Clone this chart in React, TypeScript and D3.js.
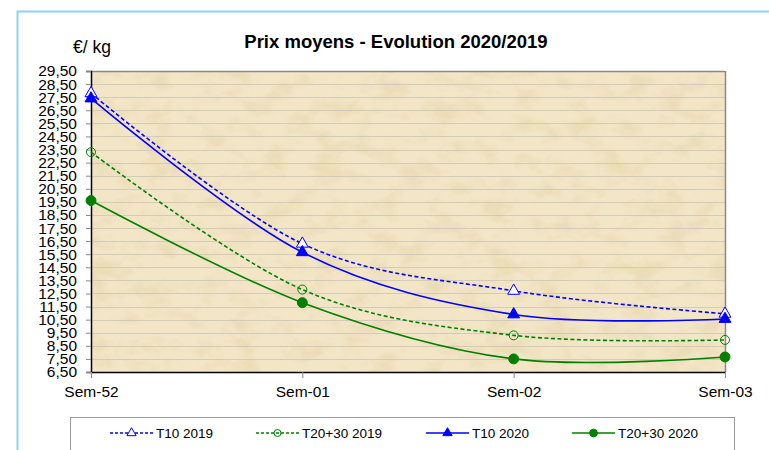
import React, { useEffect, useRef } from 'react';
import * as d3 from 'd3';

const weeks = ['Sem-52', 'Sem-01', 'Sem-02', 'Sem-03'];
const t10_2019 = [27.8, 16.3, 12.7, 10.95];
const t2030_2019 = [23.3, 12.8, 9.3, 8.95];
const t10_2020 = [27.4, 15.65, 10.9, 10.55];
const t2030_2020 = [19.6, 11.8, 7.5, 7.65];
const yTicks = d3.range(6.5, 29.51, 1);

const BLUE = '#0000ff';
const GREEN = '#008000';

type Series = { name: string; values: number[]; color: string; dashed: boolean; marker: 'triangle' | 'circle'; filled: boolean };

const series: Series[] = [
  { name: 'T10 2019', values: t10_2019, color: BLUE, dashed: true, marker: 'triangle', filled: false },
  { name: 'T20+30 2019', values: t2030_2019, color: GREEN, dashed: true, marker: 'circle', filled: false },
  { name: 'T10 2020', values: t10_2020, color: BLUE, dashed: false, marker: 'triangle', filled: true },
  { name: 'T20+30 2020', values: t2030_2020, color: GREEN, dashed: false, marker: 'circle', filled: true },
];

const legendX = [110, 256, 426, 572];

export default function App() {
  const ref = useRef<SVGSVGElement>(null);

  useEffect(() => {
    const svg = d3.select(ref.current);
    svg.selectAll('*').remove();

    const left = 91, right = 725, top = 71, bottom = 372;
    const font = '"Liberation Sans", Arial, sans-serif';

    // outer frame
    svg.append('rect').attr('x', 17.5).attr('y', 11.5).attr('width', 800).attr('height', 500)
      .attr('fill', '#fff').attr('stroke', '#8dd4f2').attr('stroke-width', 2);

    // parchment texture
    const defs = svg.append('defs');
    const f = defs.append('filter').attr('id', 'parch').attr('x', 0).attr('y', 0).attr('width', '100%').attr('height', '100%');
    f.append('feTurbulence').attr('type', 'fractalNoise').attr('baseFrequency', '0.035 0.05')
      .attr('numOctaves', 4).attr('seed', 7).attr('result', 'n');
    f.append('feColorMatrix').attr('in', 'n').attr('type', 'matrix')
      .attr('values', '0 0 0 0 0.84  0 0 0 0 0.72  0 0 0 0 0.48  3.2 0 0 0 -1.45');
    f.append('feComposite').attr('in2', 'SourceGraphic').attr('operator', 'in');

    const x = d3.scalePoint<string>().domain(weeks).range([left, right]);
    const y = d3.scaleLinear().domain([6.5, 29.5]).range([bottom, top]);

    svg.append('rect').attr('x', left).attr('y', top).attr('width', right - left).attr('height', bottom - top)
      .attr('fill', '#f3e6c7');
    svg.append('rect').attr('x', left).attr('y', top).attr('width', right - left).attr('height', bottom - top)
      .attr('fill', '#fff').attr('filter', 'url(#parch)');

    // gridlines
    svg.append('g').selectAll('line').data(yTicks).enter().append('line')
      .attr('x1', left).attr('x2', right)
      .attr('y1', d => Math.round(y(d)) + 0.5).attr('y2', d => Math.round(y(d)) + 0.5)
      .attr('stroke', '#d2cbbb').attr('stroke-width', 1);

    // plot frame (top / right)
    svg.append('line').attr('x1', left).attr('x2', right).attr('y1', top + 0.5).attr('y2', top + 0.5).attr('stroke', '#8a8a8a').attr('stroke-width', 1.5);
    svg.append('line').attr('x1', right + 0.5).attr('x2', right + 0.5).attr('y1', top).attr('y2', bottom).attr('stroke', '#8a8a8a').attr('stroke-width', 1.5);

    // y axis
    const yAxis = svg.append('g').attr('transform', `translate(${left},0)`)
      .call(d3.axisLeft(y).tickValues(yTicks).tickSize(5).tickPadding(9)
        .tickFormat(d => (d as number).toFixed(2).replace('.', ',')));
    yAxis.select('.domain').attr('stroke', '#000').attr('stroke-width', 1.5);
    yAxis.selectAll('.tick line').attr('stroke', '#888');
    yAxis.selectAll('text').attr('font-family', font).attr('font-size', 15.5).attr('fill', '#000');

    // x axis
    const xAxis = svg.append('g').attr('transform', `translate(0,${bottom})`)
      .call(d3.axisBottom(x).tickSize(6).tickPadding(8).tickSizeOuter(0));
    xAxis.select('.domain').attr('stroke', '#000').attr('stroke-width', 1.5);
    xAxis.selectAll('.tick line').attr('stroke', '#888');
    xAxis.selectAll('text').attr('font-family', font).attr('font-size', 15.5).attr('fill', '#000');

    // title & unit
    svg.append('text').attr('x', 396).attr('y', 48).attr('text-anchor', 'middle')
      .attr('font-family', font).attr('font-size', 18.5).attr('font-weight', 'bold').text('Prix moyens - Evolution 2020/2019');
    svg.append('text').attr('x', 73).attr('y', 53)
      .attr('font-family', font).attr('font-size', 17.5).text('€/ kg');

    const line = d3.line<number>()
      .x((_, i) => x(weeks[i]) as number)
      .y(d => y(d))
      .curve(d3.curveCardinal.tension(0));

    const tri = d3.symbol().type(d3.symbolTriangle);

    const drawMarker = (g: any, s: Series, cx: number, cy: number, size: number) => {
      if (s.marker === 'triangle') {
        g.append('path').attr('d', tri.size(size * size * 0.75)())
          .attr('transform', `translate(${cx},${cy})`)
          .attr('fill', s.filled ? s.color : '#fff').attr('stroke', s.color).attr('stroke-width', 1);
      } else {
        g.append('circle').attr('cx', cx).attr('cy', cy).attr('r', s.filled ? size * 0.55 : size * 0.5)
          .attr('fill', s.filled ? s.color : 'none').attr('stroke', s.color).attr('stroke-width', 1);
      }
    };

    series.forEach(s => {
      const g = svg.append('g');
      g.append('path').attr('d', line(s.values))
        .attr('fill', 'none').attr('stroke', s.color).attr('stroke-width', 1.6)
        .attr('stroke-dasharray', s.dashed ? '4,2.5' : null);
      s.values.forEach((v, i) => drawMarker(g, s, x(weeks[i]) as number, y(v), 9));
    });

    // legend
    svg.append('rect').attr('x', 70.5).attr('y', 417.5).attr('width', 664).attr('height', 60)
      .attr('fill', '#fff').attr('stroke', '#999').attr('stroke-width', 1);
    series.forEach((s, i) => {
      const g = svg.append('g');
      const lx = legendX[i];
      const ly = 433;
      g.append('line').attr('x1', lx).attr('x2', lx + 43).attr('y1', ly).attr('y2', ly)
        .attr('stroke', s.color).attr('stroke-width', 1.4).attr('stroke-dasharray', s.dashed ? '3,2' : null);
      drawMarker(g, s, lx + 21.5, ly, 7);
      g.append('text').attr('x', lx + 46).attr('y', ly + 5)
        .attr('font-family', font).attr('font-size', 13.5).text(s.name);
    });
  }, []);

  return (
    <svg ref={ref} width={769} height={450} style={{ position: 'absolute', left: 0, top: 0, background: '#fff' }} />
  );
}
